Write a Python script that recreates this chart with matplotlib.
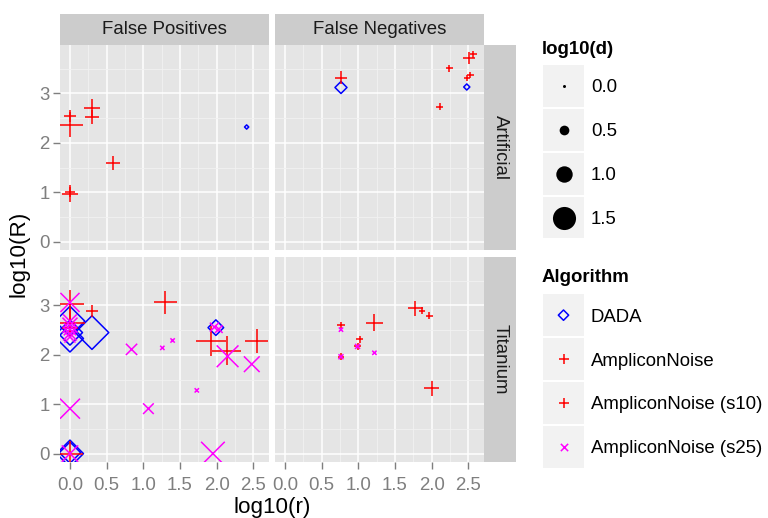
import numpy as np
import matplotlib
matplotlib.use("Agg")
import matplotlib.pyplot as plt
from matplotlib.patches import Rectangle

plt.rcParams['font.family'] = ['Liberation Sans', 'DejaVu Sans']

# ---------------- data ----------------
rows = ["Artificial", "Titanium"]
cols = ["False Positives", "False Negatives"]
algorithms = ["DADA", "AmpliconNoise", "AmpliconNoise (s10)", "AmpliconNoise (s25)"]
alg_colors = ["#0000FF", "#FF0000", "#FF0000", "#FF00FF"]
alg_markers = ["D", "+", "+", "x"]

size_breaks = [0.0, 0.5, 1.0, 1.5]
size_labels = ["0.0", "0.5", "1.0", "1.5"]

x_ticks = [0.0, 0.5, 1.0, 1.5, 2.0, 2.5]
x_ticklabels = ["0.0", "0.5", "1.0", "1.5", "2.0", "2.5"]
y_ticks = [0, 1, 2, 3]
y_ticklabels = ["0", "1", "2", "3"]

# per point: dataset, error type, algorithm, log10(r), log10(R), log10(d)
dataset = (["Artificial"] * 8 + ["Artificial"] * 9 +
           ["Titanium"] * 34 + ["Titanium"] * 13)
error = (["False Positives"] * 8 + ["False Negatives"] * 9 +
         ["False Positives"] * 34 + ["False Negatives"] * 13)
algorithm = (
    # Artificial / False Positives
    ["AmpliconNoise"] * 7 + ["DADA"] +
    # Artificial / False Negatives
    ["AmpliconNoise", "DADA", "AmpliconNoise", "AmpliconNoise", "AmpliconNoise",
     "AmpliconNoise", "AmpliconNoise", "DADA", "AmpliconNoise"] +
    # Titanium / False Positives
    ["DADA"] * 7 + ["AmpliconNoise"] * 9 + ["AmpliconNoise (s25)"] * 18 +
    # Titanium / False Negatives
    ["AmpliconNoise"] * 5 + ["AmpliconNoise (s10)"] * 4 + ["AmpliconNoise (s25)"] * 4
)
log_r = (
    [0.0, 0.0, 0.30, 0.30, 0.59, 0.0, 0.0, 2.41] +
    [0.764, 0.764, 2.51, 2.57, 2.24, 2.53, 2.48, 2.48, 2.11] +
    [0.0, 0.0, 0.0, 0.30, 1.99, 0.0, 0.0] +
    [0.0, 0.0, 0.0, 0.30, 1.30, 1.93, 2.14, 2.55, 0.0] +
    [0.0, 0.0, 0.0, 0.0, 0.0, 0.0, 0.84, 1.26, 1.40, 1.73, 1.07, 0.0, 1.95,
     1.97, 2.03, 2.15, 2.48, 0.0] +
    [0.764, 1.02, 1.22, 1.78, 1.87] +
    [0.99, 0.764, 1.97, 2.00] +
    [0.764, 0.99, 0.764, 1.22]
)
log_R = (
    [2.55, 2.37, 2.71, 2.52, 1.60, 1.01, 0.97, 2.32] +
    [3.32, 3.12, 3.72, 3.79, 3.51, 3.37, 3.31, 3.13, 2.73] +
    [2.68, 2.45, 2.33, 2.45, 2.55, 0.0, 0.02] +
    [3.02, 2.65, 2.55, 2.88, 3.06, 2.28, 2.08, 2.28, 0.0] +
    [3.06, 2.68, 2.60, 2.52, 2.43, 2.36, 2.11, 2.14, 2.29, 1.28, 0.91, 0.91, 0.0,
     2.56, 2.52, 1.97, 1.81, 0.0] +
    [2.60, 2.31, 2.65, 2.94, 2.89] +
    [2.17, 1.96, 2.79, 1.32] +
    [2.51, 2.17, 1.96, 2.04]
)
log_d = (
    [0.41, 1.10, 0.66, 0.55, 0.51, 0.30, 0.66, 0.0] +
    [0.43, 0.41, 0.41, 0.16, 0.13, 0.10, 0.10, 0.10, 0.13] +
    [1.35, 1.10, 1.20, 1.55, 0.60, 1.20, 0.90] +
    [1.30, 1.35, 0.60, 0.40, 1.00, 1.36, 1.30, 1.00, 1.15] +
    [1.20, 0.80, 0.90, 0.70, 0.80, 0.60, 0.62, 0.10, 0.10, 0.10, 0.57, 1.27, 1.54,
     0.45, 0.35, 1.40, 0.95, 1.00] +
    [0.16, 0.13, 0.69, 0.57, 0.13] +
    [0.13, 0.13, 0.13, 0.57] +
    [0.10, 0.15, 0.15, 0.10]
)

# ---------------- layout / style ----------------
W, H, DPI = 768, 518, 100
PT = 72.0 / DPI
fig = plt.figure(figsize=(W / DPI, H / DPI), dpi=DPI)

col_px = [(60, 269), (275, 484)]
row_px = [(45, 250), (257, 462)]
XLIM = (-0.136, 2.715)
YLIM = (-0.17, 3.98)

PANEL_BG = "#E5E5E5"
STRIP_BG = "#CCCCCC"
TICK_C = "#7F7F7F"
FS_SMALL = 13.4
FS_TITLE = 16.1


def diam_px(v):
    # point-size scale: log10(d) -> circle diameter in pixels
    return 3.0 + 13.4 * np.asarray(v, dtype=float)


def marker_area(marker, dpx):
    dpx = np.asarray(dpx, dtype=float)
    if marker == "+":
        ms = 1.414 * dpx * PT
    else:
        ms = dpx * PT
    return ms ** 2


def px_axes(x0, y0, x1, y1, **kw):
    return fig.add_axes([x0 / W, 1 - y1 / H, (x1 - x0) / W, (y1 - y0) / H], **kw)


ds_arr = np.array(dataset)
er_arr = np.array(error)
al_arr = np.array(algorithm)
r_arr = np.array(log_r)
R_arr = np.array(log_R)
d_arr = np.array(log_d)

for i, rname in enumerate(rows):
    for j, cname in enumerate(cols):
        x0, x1 = col_px[j]
        y0, y1 = row_px[i]
        ax = px_axes(x0, y0, x1, y1)
        ax.set_facecolor(PANEL_BG)
        ax.set_xlim(*XLIM)
        ax.set_ylim(*YLIM)
        for s in ax.spines.values():
            s.set_visible(False)
        ax.set_xticks(x_ticks)
        ax.set_yticks(y_ticks)
        ax.set_xticks([0.25, 0.75, 1.25, 1.75, 2.25], minor=True)
        ax.set_yticks([0.5, 1.5, 2.5, 3.5], minor=True)
        ax.grid(which="minor", color="#F2F2F2", lw=0.6, zorder=0)
        ax.grid(which="major", color="white", lw=1.1, zorder=0)
        ax.set_axisbelow(True)
        ax.tick_params(which="minor", length=0)
        ax.tick_params(which="major", length=5, width=1.0, color=TICK_C,
                       labelcolor=TICK_C, labelsize=FS_SMALL)
        ax.tick_params(axis="x", pad=5.5)
        ax.tick_params(axis="y", pad=2.5)
        if i == len(rows) - 1:
            ax.set_xticklabels(x_ticklabels)
        else:
            ax.tick_params(axis="x", length=0, labelbottom=False)
        if j == 0:
            ax.set_yticklabels(y_ticklabels)
        else:
            ax.tick_params(axis="y", length=0, labelleft=False)

        for k, alg in enumerate(algorithms):
            m = (ds_arr == rname) & (er_arr == cname) & (al_arr == alg)
            if not m.any():
                continue
            mk = alg_markers[k]
            kw = dict(marker=mk, s=marker_area(mk, diam_px(d_arr[m])),
                      linewidths=1.1, zorder=3 + k, clip_on=True)
            if mk == "D":
                ax.scatter(r_arr[m], R_arr[m], facecolors="none",
                           edgecolors=alg_colors[k], **kw)
            else:
                ax.scatter(r_arr[m], R_arr[m], c=alg_colors[k], **kw)

# overlay in pixel coordinates for strips, titles and legends
ov = fig.add_axes([0, 0, 1, 1], zorder=10)
ov.set_xlim(0, W)
ov.set_ylim(H, 0)
ov.axis("off")
ov.patch.set_alpha(0)

for j, cname in enumerate(cols):
    x0, x1 = col_px[j]
    ov.add_patch(Rectangle((x0, 14), x1 - x0, 31, facecolor=STRIP_BG, edgecolor="none"))
    ov.text((x0 + x1) / 2, 29.5, cname, ha="center", va="center",
            fontsize=FS_SMALL, color="#1A1A1A")
for i, rname in enumerate(rows):
    y0, y1 = row_px[i]
    ov.add_patch(Rectangle((484, y0), 32, y1 - y0, facecolor=STRIP_BG, edgecolor="none"))
    ov.text(500, (y0 + y1) / 2, rname, ha="center", va="center", rotation=-90,
            fontsize=FS_SMALL, color="#1A1A1A")

ov.text(272, 508, "log10(r)", ha="center", va="center", fontsize=FS_TITLE)
ov.text(19, 254, "log10(R)", ha="center", va="center", rotation=90, fontsize=FS_TITLE)

# size legend
KEY_X, KEY_W, KEY_H, KEY_STEP = 543, 41, 41.7, 43.9
TXT_DY = 2.0
ov.text(542, 49, "log10(d)", ha="left", va="center", fontsize=FS_SMALL, fontweight="bold")
for n, (v, lab) in enumerate(zip(size_breaks, size_labels)):
    ky = 65 + n * KEY_STEP
    ov.add_patch(Rectangle((KEY_X, ky), KEY_W, KEY_H, facecolor="#F2F2F2", edgecolor="none"))
    ov.scatter([KEY_X + KEY_W / 2], [ky + KEY_H / 2], marker="o",
               s=marker_area("o", diam_px(v)), c="black", linewidths=0)
    ov.text(591, ky + KEY_H / 2 + TXT_DY, lab, ha="left", va="center", fontsize=FS_SMALL)

# algorithm legend
ov.text(542, 277, "Algorithm", ha="left", va="center", fontsize=FS_SMALL, fontweight="bold")
LEG_D = 7.3
for n, alg in enumerate(algorithms):
    ky = 294.3 + n * KEY_STEP
    ov.add_patch(Rectangle((KEY_X, ky), KEY_W, KEY_H, facecolor="#F2F2F2", edgecolor="none"))
    mk = alg_markers[n]
    if mk == "D":
        ov.scatter([KEY_X + KEY_W / 2], [ky + KEY_H / 2], marker=mk,
                   s=marker_area(mk, LEG_D), facecolors="none",
                   edgecolors=alg_colors[n], linewidths=1.1)
    else:
        ov.scatter([KEY_X + KEY_W / 2], [ky + KEY_H / 2], marker=mk,
                   s=marker_area(mk, LEG_D), c=alg_colors[n], linewidths=1.1)
    ov.text(591, ky + KEY_H / 2 + TXT_DY, alg, ha="left", va="center", fontsize=FS_SMALL)

fig.savefig("out.png", dpi=DPI)
